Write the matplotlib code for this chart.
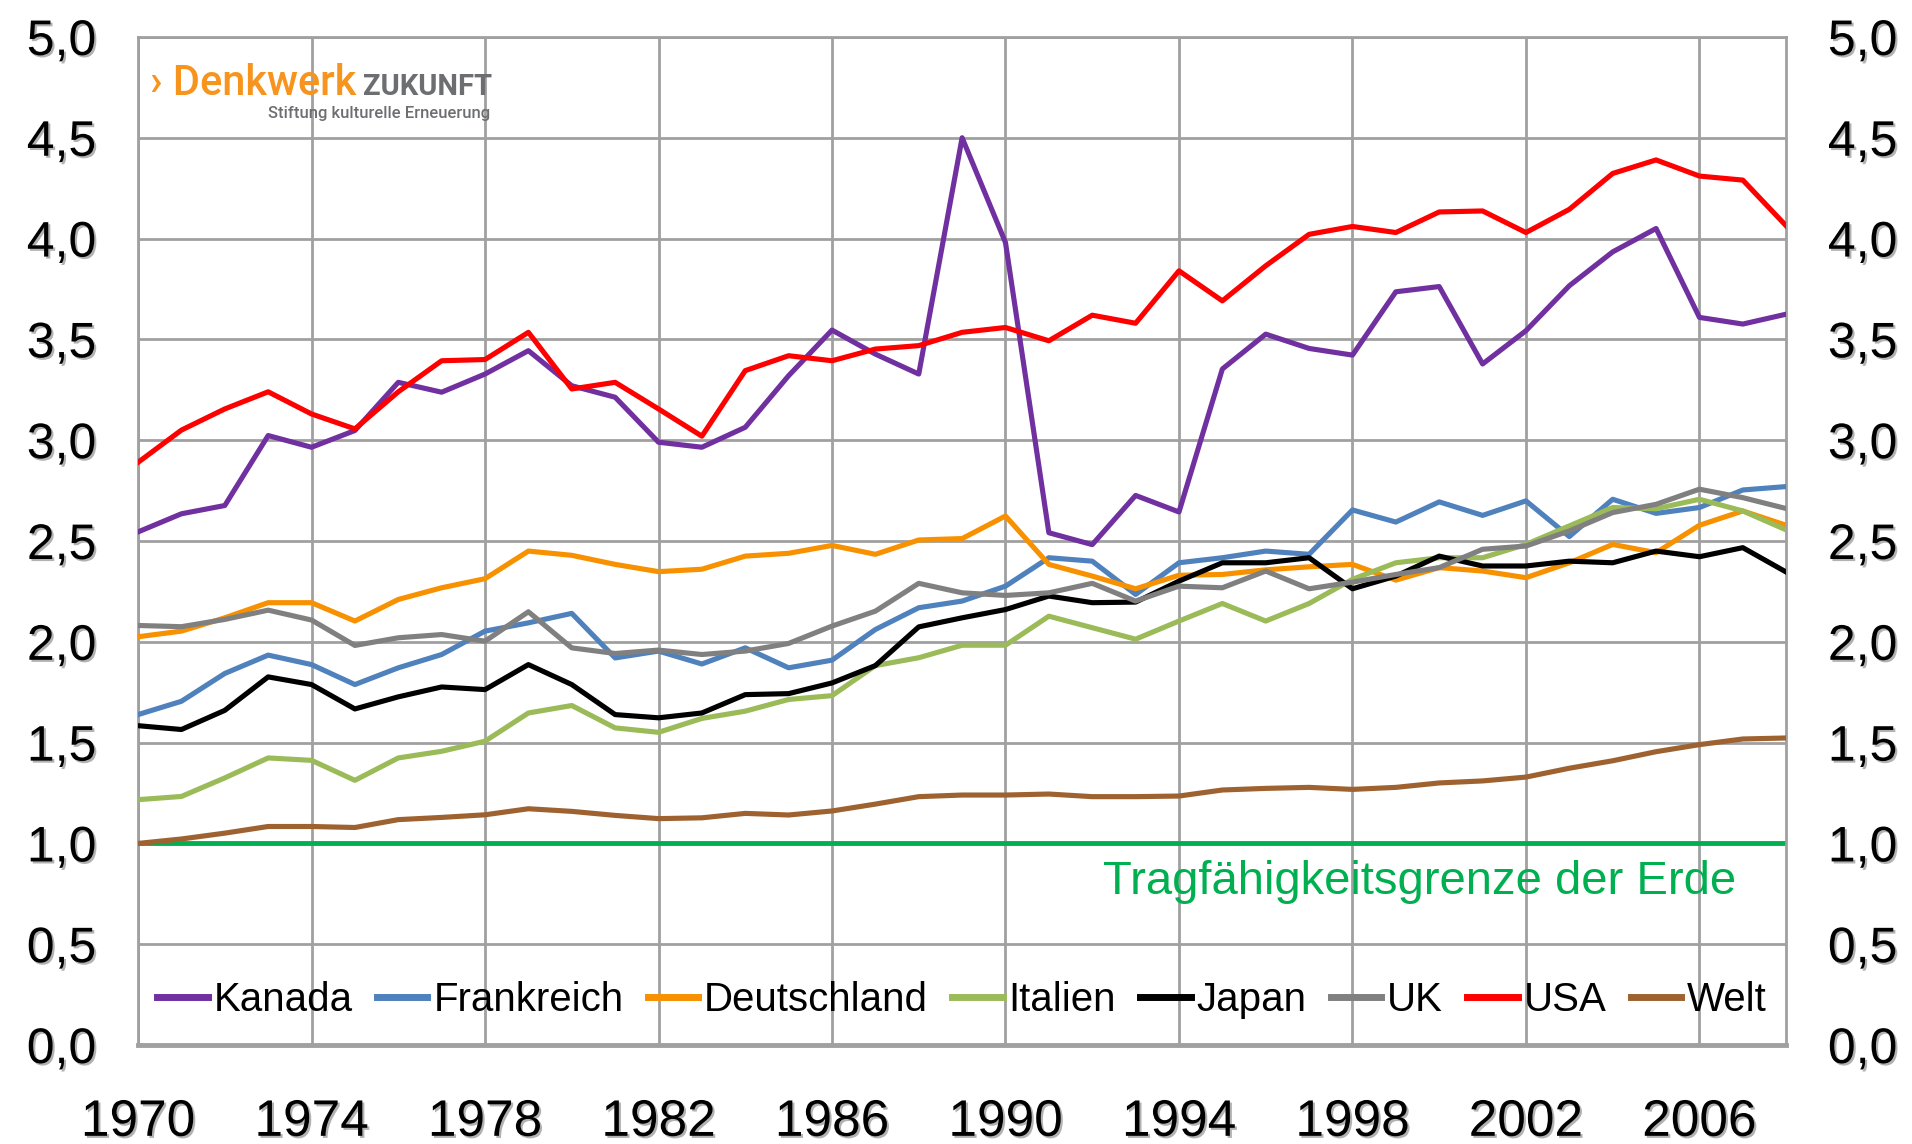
import matplotlib
matplotlib.use('Agg')
import matplotlib.pyplot as plt
import matplotlib.patheffects as pe
from matplotlib.ticker import FuncFormatter

# --- data ---
years = list(range(1970, 2009))

kanada = [2.545, 2.635, 2.676, 3.023, 2.965, 3.048, 3.287, 3.238, 3.328, 3.444,
          3.27, 3.213, 2.99, 2.965, 3.064, 3.32, 3.546, 3.427, 3.328, 4.5,
          3.98, 2.541, 2.482, 2.726, 2.644, 3.353, 3.526, 3.455, 3.422, 3.736,
          3.762, 3.378, 3.543, 3.766, 3.934, 4.05, 3.609, 3.576, 3.625]
frankreich = [1.639, 1.705, 1.843, 1.934, 1.887, 1.788, 1.871, 1.937, 2.053, 2.094,
              2.141, 1.92, 1.954, 1.89, 1.97, 1.871, 1.909, 2.061, 2.169, 2.202,
              2.276, 2.417, 2.40, 2.235, 2.392, 2.417, 2.45, 2.434, 2.654, 2.594,
              2.694, 2.627, 2.699, 2.522, 2.707, 2.637, 2.666, 2.753, 2.77]
deutschland = [2.025, 2.053, 2.119, 2.194, 2.194, 2.103, 2.21, 2.268, 2.313, 2.45,
               2.429, 2.384, 2.348, 2.36, 2.425, 2.439, 2.478, 2.434, 2.505, 2.512,
               2.624, 2.384, 2.326, 2.263, 2.33, 2.334, 2.357, 2.372, 2.384, 2.306,
               2.368, 2.351, 2.318, 2.392, 2.483, 2.442, 2.578, 2.649, 2.578]
italien = [1.217, 1.233, 1.325, 1.424, 1.412, 1.313, 1.424, 1.457, 1.507, 1.647,
           1.684, 1.573, 1.551, 1.62, 1.656, 1.714, 1.733, 1.882, 1.921, 1.983,
           1.983, 2.127, 2.07, 2.013, 2.103, 2.19, 2.103, 2.19, 2.31, 2.392,
           2.417, 2.417, 2.483, 2.575, 2.666, 2.66, 2.707, 2.649, 2.555]
japan = [1.584, 1.565, 1.66, 1.826, 1.788, 1.667, 1.727, 1.776, 1.763, 1.887,
         1.788, 1.639, 1.623, 1.647, 1.738, 1.743, 1.796, 1.882, 2.074, 2.119,
         2.16, 2.227, 2.194, 2.197, 2.301, 2.392, 2.392, 2.417, 2.263, 2.326,
         2.425, 2.376, 2.376, 2.40, 2.392, 2.45, 2.422, 2.467, 2.346]
uk = [2.081, 2.075, 2.111, 2.157, 2.108, 1.982, 2.02, 2.036, 2.003, 2.149,
      1.97, 1.942, 1.959, 1.937, 1.954, 1.992, 2.078, 2.152, 2.29, 2.243,
      2.23, 2.243, 2.29, 2.202, 2.276, 2.268, 2.351, 2.263, 2.296, 2.334,
      2.368, 2.459, 2.475, 2.55, 2.641, 2.682, 2.757, 2.715, 2.661]
usa = [2.89, 3.05, 3.155, 3.24, 3.13, 3.056, 3.24, 3.394, 3.40, 3.535,
       3.254, 3.287, 3.155, 3.02, 3.345, 3.419, 3.394, 3.452, 3.469, 3.535,
       3.559, 3.493, 3.62, 3.58, 3.84, 3.691, 3.865, 4.021, 4.06, 4.03,
       4.132, 4.137, 4.03, 4.145, 4.323, 4.39, 4.31, 4.29, 4.063]
welt = [1.0, 1.022, 1.051, 1.084, 1.084, 1.079, 1.118, 1.129, 1.142, 1.172,
        1.159, 1.139, 1.123, 1.127, 1.149, 1.141, 1.161, 1.195, 1.232, 1.24,
        1.24, 1.245, 1.232, 1.232, 1.235, 1.265, 1.273, 1.278, 1.268, 1.278,
        1.30, 1.31, 1.329, 1.373, 1.41, 1.455, 1.49, 1.518, 1.523]

series = [
    ("Kanada", kanada, "#7030A0"),
    ("Frankreich", frankreich, "#4F81BD"),
    ("Deutschland", deutschland, "#F79100"),
    ("Italien", italien, "#9BBB59"),
    ("Japan", japan, "#000000"),
    ("UK", uk, "#808080"),
    ("USA", usa, "#FF0000"),
    ("Welt", welt, "#9E6230"),
]

grenze = 1.0
grenze_label = "Tragfähigkeitsgrenze der Erde"
x_ticks = list(range(1970, 2007, 4))
y_ticks = [0.0, 0.5, 1.0, 1.5, 2.0, 2.5, 3.0, 3.5, 4.0, 4.5, 5.0]

plt.rcParams['font.family'] = ['Liberation Sans', 'DejaVu Sans']

fig = plt.figure(figsize=(19.12, 11.44), dpi=100)
ax = fig.add_axes([0.0722, 0.0865, 0.862, 0.8812])

grid_col = "#A0A0A0"
ax.set_axisbelow(True)
ax.grid(True, color=grid_col, linewidth=2)
for s in ax.spines.values():
    s.set_color(grid_col)
    s.set_linewidth(2)
ax.spines['bottom'].set_linewidth(3.5)

ax.axhline(grenze, color="#00B050", linewidth=3.5, zorder=2)

for name, vals, col in series:
    ax.plot(years, vals, color=col, linewidth=3.7, label=name, zorder=3)

ax.set_xlim(1970, 2008)
ax.set_ylim(0, 5)
ax.set_xticks(x_ticks)
ax.set_yticks(y_ticks)
fmt = FuncFormatter(lambda v, p: f"{v:.1f}".replace(".", ","))
ax.yaxis.set_major_formatter(fmt)
ax.tick_params(axis='both', length=0)
ax.tick_params(axis='y', pad=30, labelsize=36)
ax.tick_params(axis='x', pad=38, labelsize=37)

ax2 = ax.twinx()
ax2.set_ylim(0, 5)
ax2.set_yticks(y_ticks)
ax2.yaxis.set_major_formatter(fmt)
ax2.tick_params(axis='y', length=0, labelsize=36, pad=30)
for s in ax2.spines.values():
    s.set_visible(False)

# leichter Schatten wie im Original
shadow = [pe.withSimplePatchShadow(offset=(1.5, -1.5), shadow_rgbFace='#808080', alpha=0.6)]
for lab in ax.get_xticklabels() + ax.get_yticklabels() + ax2.get_yticklabels():
    lab.set_path_effects(shadow)

ax.text(2006.85, 0.81, grenze_label, color="#00B050", fontsize=34,
        ha='right', va='center')

leg = ax.legend(loc='center', bbox_to_anchor=(0.5, 0.045), ncol=8, frameon=False,
                fontsize=29, handlelength=1.25, handletextpad=0.15,
                columnspacing=0.6, borderaxespad=0)
for h in leg.get_lines():
    h.set_linewidth(5)

# logo
fig.text(150 / 1912, 1 - 95 / 1144, "› Denkwerk", color="#F7941D", fontsize=30,
         family=['Roboto', 'DejaVu Sans'], weight='medium', ha='left', va='baseline')
fig.text(492 / 1912, 1 - 95 / 1144, "ZUKUNFT", color="#6D6E71", fontsize=21,
         family=['Roboto', 'DejaVu Sans'], weight='bold', ha='right', va='baseline')
fig.text(490 / 1912, 1 - 118 / 1144, "Stiftung kulturelle Erneuerung", color="#6D6E71",
         fontsize=12, family=['Roboto', 'DejaVu Sans'], weight='medium',
         ha='right', va='baseline')

fig.savefig("out.png", dpi=100)
